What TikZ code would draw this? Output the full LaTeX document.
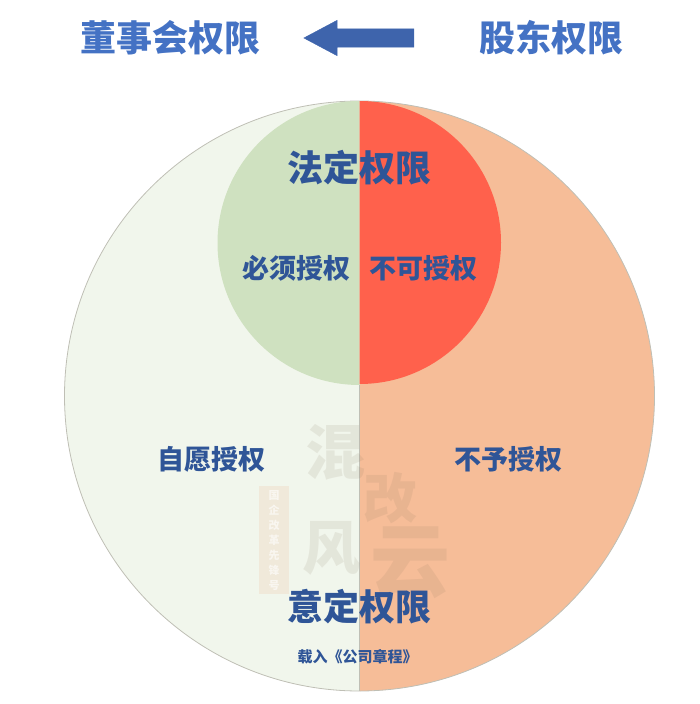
\documentclass[tikz,border=0pt]{standalone}
\usepackage{xcolor}
\usepackage{fontspec}
\usepackage{tikz}
\usetikzlibrary{shapes.arrows}
\setmainfont{Noto Sans CJK SC}
\definecolor{leftpale}{HTML}{F1F6EC}
\definecolor{rightpeach}{HTML}{F6BD98}
\definecolor{leftgreen}{HTML}{CFE1C0}
\definecolor{rightred}{HTML}{FF614C}
\definecolor{rimgray}{HTML}{BFBFB5}
\definecolor{labelblue}{HTML}{2F5597}
\definecolor{headblue}{HTML}{4472C4}
\definecolor{arrowblue}{HTML}{3E64AC}
\definecolor{inkgray}{HTML}{86745E}
\definecolor{stampred}{HTML}{EFC4A8}
\tikzset{
    headtext/.style={text=headblue, font=\fontsize{36}{36}\selectfont\bfseries, inner sep=0pt},
    rootlabel/.style={text=labelblue, font=\fontsize{36}{36}\selectfont\bfseries, inner sep=0pt},
    powerlabel/.style={text=labelblue, font=\fontsize{27}{27}\selectfont\bfseries, inner sep=0pt},
    inkmark/.style={text=inkgray, text opacity=0.12, font=\bfseries, inner sep=0pt}
}
\begin{document}
\begin{tikzpicture}[x=1pt, y=-1pt]
            \useasboundingbox (0,0) rectangle (700,704);

            % Disc
            \fill[leftpale] (359.5,101) arc[start angle=-90, end angle=-270, radius=295] -- cycle;
            \fill[rightpeach] (359.5,101) arc[start angle=-90, end angle=90, radius=295] -- cycle;
            \draw[rimgray, line width=0.8pt] (359.5,396) circle[radius=295];
            \fill[leftgreen] (359.5,101) arc[start angle=-90, end angle=-270, radius=142] -- cycle;
            \fill[rightred] (359.5,101) arc[start angle=-90, end angle=90, radius=141.5] -- cycle;
            \draw[rimgray, line width=0.8pt] (359.5,385) -- (359.5,691);

            % Watermark
            \node[inkmark, font=\fontsize{60}{60}\selectfont\bfseries] (hun) at (335,452) {混};
            \node[inkmark, font=\fontsize{54}{54}\selectfont\bfseries] (gai) at (390,498) {改};
            \node[inkmark, font=\fontsize{58}{58}\selectfont\bfseries] (feng) at (331,548) {风};
            \node[inkmark, font=\fontsize{80}{80}\selectfont\bfseries] (yun) at (410,563) {云};
            \fill[stampred, opacity=0.25] (259,486) rectangle (289,594);
            \node[text=white, text opacity=0.6, font=\fontsize{11}{15}\selectfont\bfseries, align=center, inner sep=0pt] (stamp) at (274,540) {国\\企\\改\\革\\先\\锋\\号};

            % Nodes
            \node[headtext] (board) at (170,38) {董事会权限};
            \node[headtext] (holder) at (551,38) {股东权限};
            \node[single arrow, shape border rotate=180, fill=arrowblue, draw=arrowblue, line width=0.4pt, inner sep=9pt, minimum width=35pt, minimum height=110pt, single arrow head extend=8.5pt, single arrow tip angle=56] (shift) at (367.5,38) {};
            \node[rootlabel] (legal) at (359.5,168) {法定权限};
            \node[powerlabel] (must) at (296,268) {必须授权};
            \node[powerlabel] (never) at (423.5,268) {不可授权};
            \node[powerlabel] (free) at (211.5,459) {自愿授权};
            \node[powerlabel] (withheld) at (508.5,459) {不予授权};
            \node[rootlabel] (agreed) at (359.5,607) {意定权限};
            \node[text=labelblue, font=\fontsize{15}{15}\selectfont\bfseries, inner sep=0pt] (charter) at (357.5,657) {载入《公司章程》};
        \end{tikzpicture}
\end{document}
